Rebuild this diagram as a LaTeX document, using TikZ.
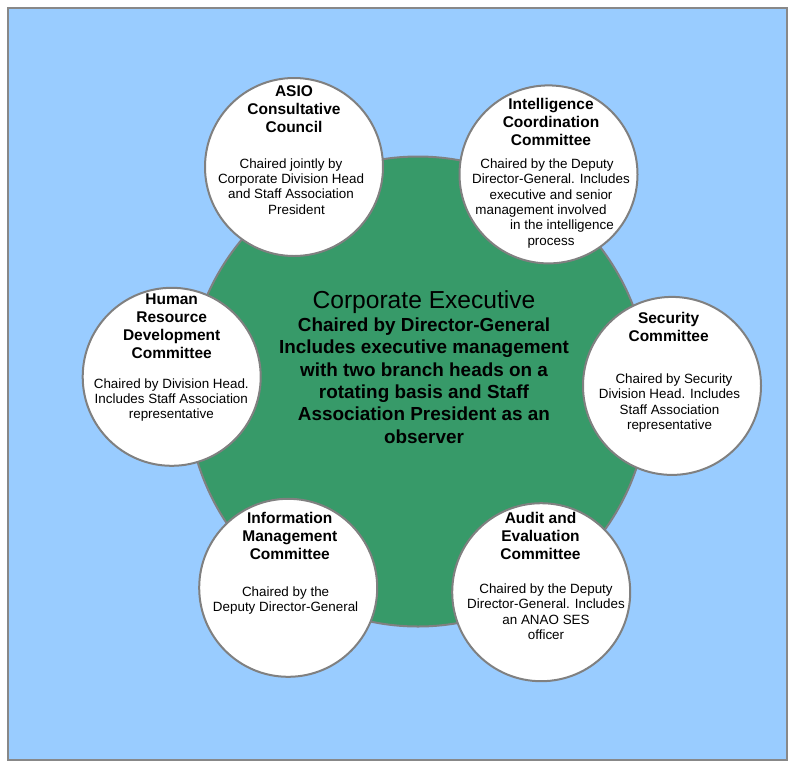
\documentclass[tikz,border=0pt]{standalone}
\usepackage{fontspec}
\setmainfont{Liberation Sans}
\usetikzlibrary{shapes.geometric}
\definecolor{skyfill}{HTML}{99CCFF}
\definecolor{execgreen}{HTML}{379A69}
\definecolor{rimgray}{HTML}{808080}
\definecolor{framegray}{HTML}{888888}
\begin{document}
% multi-line nodes are placed by the baseline of their last line
\begin{tikzpicture}[x=1pt,y=-1pt,
  committee/.style={circle, draw=rimgray, line width=2pt, fill=white,
    minimum size=178pt, inner sep=0pt},
  execbody/.style={ellipse, draw=rimgray, line width=2pt, fill=execgreen,
    minimum width=462pt, minimum height=470pt, inner sep=0pt},
  head/.style={font=\fontsize{15.5}{18}\selectfont\bfseries, align=center,
    anchor=base, inner sep=0pt},
  body/.style={font=\fontsize{13.4}{15.3}\selectfont, align=center,
    anchor=base, inner sep=0pt},
  exectitle/.style={font=\fontsize{24.6}{28}\selectfont, anchor=base, inner sep=0pt},
  execinfo/.style={font=\fontsize{18.9}{22.3}\selectfont\bfseries, align=center,
    anchor=base, inner sep=0pt},
]
\useasboundingbox (0,0) rectangle (792,764);
% page frame
\path[fill=skyfill, draw=framegray, line width=2.5pt] (8,8) rectangle (787,760);

% central body
\node[execbody] (exec) at (418,391.5) {};
\node[exectitle] (exec-title) at (424,308.3) {Corporate Executive};
\node[execinfo] (exec-info) at (424,443) {Chaired by Director-General\\
  Includes executive management\\with two branch heads on a\\
  rotating basis and Staff\\Association President as an\\observer};

% surrounding committees
\node[committee] (asio) at (294,167) {};
\node[head] (asio-h) at (294,132.7) {ASIO\\Consultative\\Council};
\node[body] (asio-b) at (291,214) {Chaired jointly by\\Corporate Division Head\\
  and Staff Association\\\hspace*{11pt}President};

\node[committee] (intel) at (548.5,174.4) {};
\node[head] (intel-h) at (551,145) {Intelligence\\Coordination\\Committee};
\node[body] (intel-b) at (551,245) {Chaired by the Deputy\makebox[8pt]{}\\
  Director-General. Includes\\executive and senior\\
  management involved\makebox[20pt]{}\\\makebox[22pt]{}in the intelligence\\process};

\node[committee] (hr) at (171.7,376.8) {};
\node[head] (hr-h) at (171.7,358.3) {Human\\Resource\\Development\\Committee};
\node[body] (hr-b) at (171.3,418.6) {Chaired by Division Head.\\
  Includes Staff Association\\representative};

\node[committee] (sec) at (672,385.9) {};
\node[head] (sec-h) at (668.6,341.5) {Security\\Committee};
\node[body] (sec-b) at (669.5,429.3) {\makebox[9pt]{}Chaired by Security\\
  Division Head. Includes\\Staff Association\\representative};

\node[committee] (info) at (288.2,587.8) {};
\node[head] (info-h) at (289.8,559.3) {Information\\Management\\Committee};
\node[body] (info-b) at (285.6,611.8) {Chaired by the\\Deputy Director-General};

\node[committee] (audit) at (541.2,592.2) {};
\node[head] (audit-h) at (540.5,559.5) {Audit and\\Evaluation\\Committee};
\node[body] (audit-b) at (546,639.3) {Chaired by the Deputy\\
  Director-General. Includes\\an ANAO SES\\officer};
\end{tikzpicture}
\end{document}
